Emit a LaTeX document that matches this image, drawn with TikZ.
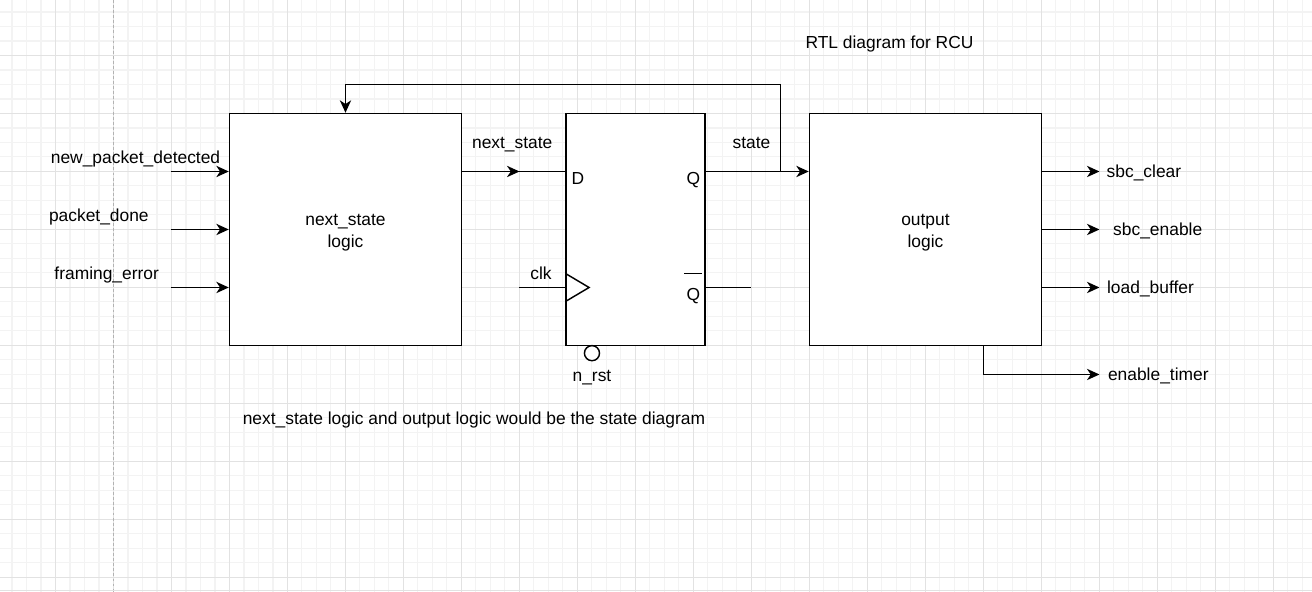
\documentclass[tikz,border=0pt]{standalone}
\usepackage{fontspec}
\setmainfont{Liberation Sans}
\usetikzlibrary{arrows.meta}
\usetikzlibrary{positioning}
\usetikzlibrary{calc}
\definecolor{gridminor}{HTML}{F3F3F3}
\definecolor{gridmajor}{HTML}{E2E2E2}
\def\pagebox{(-8.28,-8.28) rectangle (896.6,400)}
\def\clktri{(382,180.5) -- (398,190) -- (382,199.5)}

\begin{document}
\begin{tikzpicture}[x=1pt,y=-1pt,every node/.style={font=\fontsize{12}{15}\selectfont,inner sep=0pt},
  blk/.style={draw,line width=1pt,minimum width=160pt,minimum height=160pt,align=center,fill=white},
  lbl/.style={text height=0.72em,text depth=0pt,yshift=-0.7pt},
  wire/.style={line width=1pt},
  sig/.style={wire,-{Stealth[length=8.6pt,width=7.8pt,inset=2.6pt]}}]
\useasboundingbox \pagebox;
\fill[white] \pagebox;
\foreach \x in {0,10,...,890} \draw[gridminor,line width=0.7pt] (\x,-8.28) -- (\x,400);
\foreach \y in {0,10,...,390} \draw[gridminor,line width=0.7pt] (-8.28,\y) -- (896.6,\y);
\foreach \x in {30,70,...,870} \draw[gridmajor,line width=0.7pt] (\x,-8.28) -- (\x,400);
\foreach \y in {30,70,...,390} \draw[gridmajor,line width=0.7pt] (-8.28,\y) -- (896.6,\y);
\draw[gray!60,line width=0.7pt,dash pattern=on 2pt off 1.5pt] (70,-8.28) -- (70,400);
\draw[gridmajor,line width=0.7pt] (-8.28,399.2) -- (896.6,399.2);

\node[blk] (nsl) at (230,150) {\rule{0pt}{12.6pt}next\_state\\logic};
\node[blk,minimum width=96pt] (ff) at (430,150) {};
\node[blk] (ol) at (630,150) {\rule{0pt}{12.6pt}output\\logic};

  \node[lbl] (tD) at (390.3,115) {D};
  \node[lbl] (tQ) at (470,115) {Q};
  \node[lbl] (tQb) at (470,195) {Q};
\draw[wire] (463.7,180.2) -- (476,180.2);
\draw[wire] \clktri;
\node[draw,circle,line width=1pt,minimum size=10.4pt,fill=white] (rst) at (400,235.3) {};
  \node[lbl] (nrst) at (400,250.3) {n\_rst};

% inputs
\coordinate (in1) at (110,110);
\coordinate (in2) at (110,150);
\coordinate (in3) at (110,190);
\draw[sig] (in1) -- (in1 -| nsl.west);
\draw[sig] (in2) -- (in2 -| nsl.west);
\draw[sig] (in3) -- (in3 -| nsl.west);
  \node[lbl] (npd) at (85.2,100) {new\_packet\_detected};
  \node[lbl] (pd) at (59.9,140) {packet\_done};
  \node[lbl] (fe) at (65.3,180) {framing\_error};

% next state and state
\coordinate (ns) at (350,110);
\draw[sig] (nsl.east |- ns) -- (ns);
\draw[wire] (ns) -- (ns -| ff.west);
  \node[lbl] (tns) at (345,90) {next\_state};
\draw[sig] (ff.east |- ns) -- (ol.west |- ns);
  \node[lbl] (tst) at (510,90) {state};
\coordinate (fbs) at (510,110);
\coordinate (fbc) at (530,50);
\draw[sig] (fbs) -| (fbc) -| (nsl.north);

\coordinate (clk) at (350,190);
\draw[wire] (clk) -- (clk -| ff.west);
  \node[lbl] (tclk) at (364.8,180) {clk};
\coordinate (qbo) at (510,190);
\draw[wire] (ff.east |- qbo) -- (qbo);

% outputs
\foreach \y/\n in {110/o1,150/o2,190/o3}
  \coordinate (\n) at (750,\y);
\draw[sig] (ol.east |- o1) -- (o1);
\draw[sig] (ol.east |- o2) -- (o2);
\draw[sig] (ol.east |- o3) -- (o3);
\coordinate (et) at (750,250);
\draw[sig] ($(ol.south)+(40,0)$) |- (et);
  \node[lbl] (tsc) at (780.7,110) {sbc\_clear};
  \node[lbl] (tse) at (790.2,150) {sbc\_enable};
  \node[lbl] (tlb) at (785.2,190) {load\_buffer};
  \node[lbl] (tet) at (790.6,250) {enable\_timer};

  \node[lbl] (title) at (605.2,20.7) {RTL diagram for RCU};
  \node[lbl] (note) at (318.6,280) {next\_state logic and output logic would be the state diagram};
\end{tikzpicture}
\end{document}
